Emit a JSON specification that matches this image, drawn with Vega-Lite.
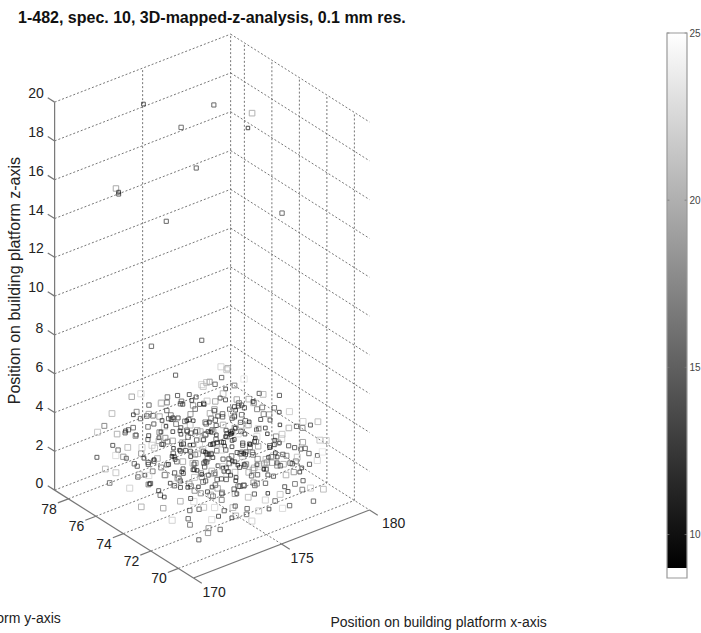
{"$schema":"https://vega.github.io/schema/vega-lite/v6.json","width":701,"height":633,"padding":0,"autosize":{"type":"none"},"background":"white",
"title":{"text":"1-482, spec. 10, 3D-mapped-z-analysis, 0.1 mm res.","anchor":"start","frame":"group","dx":18,"offset":-26,"fontSize":16,"fontWeight":"bold","font":"Liberation Sans","color":"#111"},
"config":{"view":{"stroke":null},"text":{"font":"Liberation Sans"}},
"datasets":{
"lines":[
{"k":"g","a":170,"b":79,"c":0,"a2":180,"b2":79,"c2":0},{"k":"g","a":180,"b":79,"c":0,"a2":180,"b2":68.9,"c2":0},
{"k":"g","a":170,"b":79,"c":2,"a2":180,"b2":79,"c2":2},{"k":"g","a":180,"b":79,"c":2,"a2":180,"b2":68.9,"c2":2},
{"k":"g","a":170,"b":79,"c":4,"a2":180,"b2":79,"c2":4},{"k":"g","a":180,"b":79,"c":4,"a2":180,"b2":68.9,"c2":4},
{"k":"g","a":170,"b":79,"c":6,"a2":180,"b2":79,"c2":6},{"k":"g","a":180,"b":79,"c":6,"a2":180,"b2":68.9,"c2":6},
{"k":"g","a":170,"b":79,"c":8,"a2":180,"b2":79,"c2":8},{"k":"g","a":180,"b":79,"c":8,"a2":180,"b2":68.9,"c2":8},
{"k":"g","a":170,"b":79,"c":10,"a2":180,"b2":79,"c2":10},{"k":"g","a":180,"b":79,"c":10,"a2":180,"b2":68.9,"c2":10},
{"k":"g","a":170,"b":79,"c":12,"a2":180,"b2":79,"c2":12},{"k":"g","a":180,"b":79,"c":12,"a2":180,"b2":68.9,"c2":12},
{"k":"g","a":170,"b":79,"c":14,"a2":180,"b2":79,"c2":14},{"k":"g","a":180,"b":79,"c":14,"a2":180,"b2":68.9,"c2":14},
{"k":"g","a":170,"b":79,"c":16,"a2":180,"b2":79,"c2":16},{"k":"g","a":180,"b":79,"c":16,"a2":180,"b2":68.9,"c2":16},
{"k":"g","a":170,"b":79,"c":18,"a2":180,"b2":79,"c2":18},{"k":"g","a":180,"b":79,"c":18,"a2":180,"b2":68.9,"c2":18},
{"k":"g","a":170,"b":79,"c":20,"a2":180,"b2":79,"c2":20},{"k":"g","a":180,"b":79,"c":20,"a2":180,"b2":68.9,"c2":20},
{"k":"g","a":175,"b":79,"c":0,"a2":175,"b2":79,"c2":20},{"k":"g","a":180,"b":79,"c":0,"a2":180,"b2":79,"c2":20},
{"k":"g","a":180,"b":78,"c":0,"a2":180,"b2":78,"c2":20},{"k":"g","a":180,"b":76,"c":0,"a2":180,"b2":76,"c2":20},
{"k":"g","a":180,"b":74,"c":0,"a2":180,"b2":74,"c2":20},{"k":"g","a":180,"b":72,"c":0,"a2":180,"b2":72,"c2":20},
{"k":"g","a":180,"b":70,"c":0,"a2":180,"b2":70,"c2":20},
{"k":"g","a":170,"b":78,"c":0,"a2":180,"b2":78,"c2":0},{"k":"g","a":170,"b":76,"c":0,"a2":180,"b2":76,"c2":0},
{"k":"g","a":170,"b":74,"c":0,"a2":180,"b2":74,"c2":0},{"k":"g","a":170,"b":72,"c":0,"a2":180,"b2":72,"c2":0},
{"k":"g","a":170,"b":70,"c":0,"a2":180,"b2":70,"c2":0},{"k":"g","a":175,"b":68.9,"c":0,"a2":175,"b2":79,"c2":0},
{"k":"s","a":170,"b":79,"c":0,"a2":170,"b2":79,"c2":20},{"k":"s","a":170,"b":79,"c":0,"a2":170,"b2":68.9,"c2":0},{"k":"s","a":170,"b":68.9,"c":0,"a2":180,"b2":68.9,"c2":0},
{"k":"s","a":170,"b":79,"c":0,"a2":170,"b2":79.5,"c2":0},{"k":"s","a":170,"b":79,"c":2,"a2":170,"b2":79.5,"c2":2},{"k":"s","a":170,"b":79,"c":4,"a2":170,"b2":79.5,"c2":4},{"k":"s","a":170,"b":79,"c":6,"a2":170,"b2":79.5,"c2":6},{"k":"s","a":170,"b":79,"c":8,"a2":170,"b2":79.5,"c2":8},{"k":"s","a":170,"b":79,"c":10,"a2":170,"b2":79.5,"c2":10},{"k":"s","a":170,"b":79,"c":12,"a2":170,"b2":79.5,"c2":12},{"k":"s","a":170,"b":79,"c":14,"a2":170,"b2":79.5,"c2":14},{"k":"s","a":170,"b":79,"c":16,"a2":170,"b2":79.5,"c2":16},{"k":"s","a":170,"b":79,"c":18,"a2":170,"b2":79.5,"c2":18},{"k":"s","a":170,"b":79,"c":20,"a2":170,"b2":79.5,"c2":20},
{"k":"s","a":170,"b":78,"c":0,"a2":169.4,"b2":78,"c2":0},{"k":"s","a":170,"b":76,"c":0,"a2":169.4,"b2":76,"c2":0},{"k":"s","a":170,"b":74,"c":0,"a2":169.4,"b2":74,"c2":0},{"k":"s","a":170,"b":72,"c":0,"a2":169.4,"b2":72,"c2":0},{"k":"s","a":170,"b":70,"c":0,"a2":169.4,"b2":70,"c2":0},
{"k":"s","a":170,"b":68.9,"c":0,"a2":170,"b2":68.3,"c2":0},{"k":"s","a":175,"b":68.9,"c":0,"a2":175,"b2":68.3,"c2":0},{"k":"s","a":180,"b":68.9,"c":0,"a2":180,"b2":68.3,"c2":0}],
"labels":[
{"t":"20","a":170,"b":80.35,"c":19.8},{"t":"18","a":170,"b":80.35,"c":17.8},{"t":"16","a":170,"b":80.35,"c":15.8},{"t":"14","a":170,"b":80.35,"c":13.8},{"t":"12","a":170,"b":80.35,"c":11.8},{"t":"10","a":170,"b":80.35,"c":9.8},{"t":"8","a":170,"b":80.1,"c":7.8},{"t":"6","a":170,"b":80.1,"c":5.8},{"t":"4","a":170,"b":80.1,"c":3.8},{"t":"2","a":170,"b":80.1,"c":1.8},{"t":"0","a":170,"b":80.1,"c":-0.2},
{"t":"78","a":168.9,"b":78,"c":-0.18},{"t":"76","a":168.9,"b":76,"c":-0.18},{"t":"74","a":168.9,"b":74,"c":-0.18},{"t":"72","a":168.9,"b":72,"c":-0.18},{"t":"70","a":168.9,"b":70,"c":-0.18},
{"t":"170","a":170,"b":67.4,"c":-0.1},{"t":"175","a":175,"b":67.4,"c":-0.1},{"t":"180","a":180.2,"b":67.4,"c":-0.1}]},
"data":{"values":[{"x":174,"y":77.66,"z":19.1,"v":10},{"x":176,"y":75.1,"z":19.5,"v":12},{"x":175,"y":76.2,"z":18.2,"v":13},{"x":177,"y":73.6,"z":19.4,"v":20},{"x":177,"y":73.9,"z":18.5,"v":9},{"x":175,"y":75.1,"z":16.6,"v":12},{"x":172,"y":77.1,"z":15.7,"v":19},{"x":172,"y":76.9,"z":15.6,"v":10},{"x":172,"y":76.9,"z":15.5,"v":11},{"x":178,"y":72.7,"z":14.3,"v":13},{"x":174,"y":76,"z":13.8,"v":12},{"x":173,"y":75.8,"z":7.8,"v":13},{"x":175,"y":74.7,"z":7.9,"v":12},
{"x":172.1,"y":71.2,"z":0.2,"v":12},{"x":172.3,"y":72.8,"z":1.4,"v":20},{"x":172.2,"y":74.6,"z":2.7,"v":14},{"x":172,"y":76.1,"z":0.7,"v":23},{"x":172.4,"y":77.9,"z":3.6,"v":21},{"x":172.1,"y":73.4,"z":3.1,"v":11},{"x":172.6,"y":71.7,"z":2.2,"v":17},{"x":172.5,"y":75.3,"z":1.1,"v":10},{"x":172.2,"y":77.2,"z":2.1,"v":13},{"x":172.7,"y":78,"z":0.4,"v":22},{"x":172.3,"y":72.1,"z":0.5,"v":15},{"x":172.8,"y":74,"z":3.8,"v":19},{"x":172.4,"y":76.7,"z":3.3,"v":12},{"x":172.6,"y":70.9,"z":1.2,"v":24},{"x":172.9,"y":73,"z":0.2,"v":13},{"x":172.5,"y":75.9,"z":2.4,"v":18},{"x":172.9,"y":77.5,"z":1.3,"v":11},{"x":172.2,"y":78.2,"z":2.9,"v":16},{"x":172.7,"y":72.4,"z":3.4,"v":21},{"x":172.8,"y":74.9,"z":0.6,"v":14},
{"x":173.1,"y":71.3,"z":3.2,"v":10},{"x":173,"y":73.7,"z":1.8,"v":12},{"x":173.2,"y":75.1,"z":3.9,"v":23},{"x":173.3,"y":76.4,"z":0.3,"v":15},{"x":173.1,"y":77.8,"z":2.5,"v":11},{"x":173.4,"y":72,"z":1.7,"v":20},{"x":173,"y":70.8,"z":0.6,"v":13},{"x":173.5,"y":74.4,"z":2.9,"v":9},{"x":173.2,"y":78.1,"z":1,"v":18},{"x":173.6,"y":76.9,"z":3.5,"v":14},{"x":173.3,"y":73.1,"z":0.9,"v":24},{"x":173.7,"y":71.6,"z":2.6,"v":12},{"x":173.4,"y":75.6,"z":1.5,"v":16},{"x":173.8,"y":77.3,"z":0.2,"v":10},{"x":173.5,"y":72.7,"z":3.7,"v":22},{"x":173.9,"y":74.1,"z":0.4,"v":11},{"x":173.6,"y":78,"z":4,"v":19},{"x":173.1,"y":74.8,"z":2.1,"v":13},{"x":173.8,"y":70.9,"z":1.4,"v":21},{"x":173.7,"y":73.5,"z":3,"v":15},{"x":173.9,"y":76.1,"z":2.3,"v":12},{"x":173.2,"y":71.9,"z":0.1,"v":17},{"x":173.6,"y":75.2,"z":0.8,"v":10},{"x":173.4,"y":77,"z":1.9,"v":23},{"x":173.9,"y":72.3,"z":1.9,"v":14},{"x":173,"y":76,"z":3.1,"v":11},{"x":173.8,"y":77.9,"z":3.2,"v":16},{"x":173.3,"y":73.9,"z":2.6,"v":20},{"x":173.5,"y":71,"z":3.5,"v":12},{"x":173.7,"y":74.7,"z":1.2,"v":18},{"x":173.1,"y":72.6,"z":2.8,"v":9},{"x":173.9,"y":75.7,"z":3.8,"v":13},
{"x":174.1,"y":70.9,"z":2.4,"v":14},{"x":174,"y":72.2,"z":0.3,"v":11},{"x":174.2,"y":73.6,"z":3.6,"v":22},{"x":174.1,"y":75,"z":1.3,"v":10},{"x":174,"y":76.5,"z":2.7,"v":16},{"x":174.3,"y":77.7,"z":0.5,"v":13},{"x":174.2,"y":78.1,"z":3.9,"v":24},{"x":174.4,"y":71.5,"z":1,"v":12},{"x":174.3,"y":72.9,"z":2.1,"v":19},{"x":174.5,"y":74.3,"z":0.7,"v":9},{"x":174.4,"y":75.8,"z":3.3,"v":15},{"x":174.6,"y":77.1,"z":1.6,"v":11},{"x":174.5,"y":71.1,"z":3.7,"v":21},{"x":174.7,"y":73.2,"z":1.5,"v":13},{"x":174.6,"y":74.8,"z":2.6,"v":10},{"x":174.8,"y":76.2,"z":0.2,"v":18},{"x":174.7,"y":77.8,"z":2.3,"v":12},{"x":174.9,"y":72.4,"z":3,"v":14},{"x":174.8,"y":70.8,"z":0.4,"v":23},{"x":174.9,"y":75.4,"z":1.9,"v":11},{"x":174.1,"y":74,"z":2.2,"v":17},{"x":174.6,"y":72,"z":0.1,"v":10},{"x":174.2,"y":76.9,"z":1.1,"v":20},{"x":174.8,"y":73.7,"z":3.8,"v":12},{"x":174.3,"y":71.8,"z":3.1,"v":15},{"x":174.5,"y":76.6,"z":3.6,"v":13},{"x":174.9,"y":78,"z":0.9,"v":22},{"x":174,"y":73,"z":1.2,"v":11},{"x":174.7,"y":75.1,"z":0.3,"v":16},{"x":174.4,"y":73.4,"z":2.8,"v":9},{"x":174.1,"y":77.4,"z":3.2,"v":19},{"x":174.6,"y":71.4,"z":2,"v":14},{"x":174.9,"y":76.8,"z":2.9,"v":10},{"x":174.2,"y":75.5,"z":0.4,"v":25},{"x":174.5,"y":72.6,"z":1.1,"v":12},{"x":174.8,"y":74.5,"z":1.2,"v":17},{"x":174.3,"y":74.6,"z":3.4,"v":13},{"x":174,"y":78.2,"z":1.8,"v":11},{"x":174.7,"y":70.9,"z":2.9,"v":20},{"x":174.4,"y":77.5,"z":0.1,"v":15},
{"x":175.1,"y":71,"z":1.6,"v":12},{"x":175,"y":72.5,"z":3.4,"v":10},{"x":175.2,"y":73.8,"z":0.6,"v":19},{"x":175.1,"y":75.2,"z":2.5,"v":13},{"x":175,"y":76.7,"z":1,"v":11},{"x":175.3,"y":78,"z":3.1,"v":23},{"x":175.2,"y":71.7,"z":0.2,"v":14},{"x":175.4,"y":73,"z":2.3,"v":9},{"x":175.3,"y":74.4,"z":3.9,"v":16},{"x":175.5,"y":75.9,"z":0.8,"v":12},{"x":175.4,"y":77.3,"z":2.6,"v":10},{"x":175.6,"y":70.8,"z":3.3,"v":21},{"x":175.5,"y":72.3,"z":1.3,"v":15},{"x":175.7,"y":74.9,"z":1.7,"v":11},{"x":175.6,"y":76.1,"z":3.7,"v":18},{"x":175.8,"y":77.8,"z":0.4,"v":13},{"x":175.7,"y":71.5,"z":2.7,"v":24},{"x":175.9,"y":73.3,"z":0.3,"v":10},{"x":175.8,"y":75.4,"z":3,"v":14},{"x":175.9,"y":76.9,"z":1.9,"v":12},{"x":175.1,"y":74.1,"z":1.4,"v":20},{"x":175.6,"y":73.7,"z":3.5,"v":11},{"x":175.2,"y":77.6,"z":1.5,"v":17},{"x":175.8,"y":72.1,"z":1.8,"v":13},{"x":175.3,"y":75.7,"z":3.2,"v":9},{"x":175.5,"y":71.2,"z":0.5,"v":22},{"x":175.9,"y":78.1,"z":2.2,"v":15},{"x":175,"y":73.9,"z":2.9,"v":12},{"x":175.7,"y":76.4,"z":0.9,"v":10},{"x":175.4,"y":72.8,"z":0.7,"v":19},{"x":175.1,"y":76.3,"z":4,"v":14},{"x":175.6,"y":74.6,"z":2.4,"v":11},{"x":175.9,"y":71.9,"z":3.6,"v":16},{"x":175.2,"y":70.9,"z":2.6,"v":13},{"x":175.8,"y":73.9,"z":1.1,"v":23},{"x":175.3,"y":78.2,"z":1.2,"v":10},{"x":175.5,"y":77.1,"z":3.8,"v":12},{"x":175,"y":75.6,"z":0.1,"v":18},{"x":175.7,"y":72.7,"z":2.8,"v":9},{"x":175.4,"y":75,"z":1.1,"v":13},{"x":175.9,"y":74.3,"z":3.4,"v":20},{"x":175.1,"y":72.9,"z":1.9,"v":11},{"x":175.6,"y":78,"z":3,"v":15},
{"x":176.1,"y":71.3,"z":2.1,"v":11},{"x":176,"y":72.6,"z":0.4,"v":21},{"x":176.2,"y":74,"z":3.1,"v":13},{"x":176.1,"y":75.3,"z":1.2,"v":10},{"x":176,"y":76.8,"z":2.8,"v":17},{"x":176.3,"y":77.9,"z":0.3,"v":12},{"x":176.2,"y":70.9,"z":0.9,"v":14},{"x":176.4,"y":73.2,"z":3.7,"v":24},{"x":176.3,"y":74.7,"z":2,"v":9},{"x":176.5,"y":76.2,"z":0.6,"v":15},{"x":176.4,"y":77.4,"z":3.4,"v":11},{"x":176.6,"y":71.8,"z":3.2,"v":13},{"x":176.5,"y":72.9,"z":1.5,"v":19},{"x":176.7,"y":74.4,"z":0.2,"v":10},{"x":176.6,"y":75.7,"z":2.5,"v":12},{"x":176.8,"y":76.9,"z":3.9,"v":22},{"x":176.7,"y":78.1,"z":1.6,"v":14},{"x":176.9,"y":71.1,"z":1.3,"v":11},{"x":176.8,"y":73.5,"z":2.3,"v":16},{"x":176.9,"y":75.1,"z":3.5,"v":13},{"x":176.1,"y":73.7,"z":1.7,"v":10},{"x":176.6,"y":70.8,"z":2.7,"v":20},{"x":176.2,"y":76.1,"z":3.6,"v":12},{"x":176.8,"y":72.2,"z":0.5,"v":9},{"x":176.3,"y":72.3,"z":2.4,"v":18},{"x":176.5,"y":78,"z":2.6,"v":11},{"x":176.9,"y":77.3,"z":0.7,"v":23},{"x":176,"y":75,"z":3.3,"v":14},{"x":176.7,"y":74.9,"z":1.1,"v":12},{"x":176.4,"y":71.6,"z":0.1,"v":10},{"x":176.1,"y":78.2,"z":1.9,"v":15},{"x":176.6,"y":73.9,"z":3,"v":13},{"x":176.9,"y":76.3,"z":1.8,"v":19},{"x":176.2,"y":77.1,"z":1,"v":9},{"x":176.8,"y":71.6,"z":3.7,"v":17},{"x":176.3,"y":75.9,"z":2.2,"v":11},{"x":176.5,"y":74.2,"z":0.8,"v":21},{"x":176,"y":73,"z":2.9,"v":12},{"x":176.7,"y":77.6,"z":2.9,"v":10},{"x":176.4,"y":75.4,"z":1.4,"v":14},
{"x":177.1,"y":71,"z":0.3,"v":13},{"x":177,"y":72.4,"z":2.2,"v":10},{"x":177.2,"y":73.7,"z":1,"v":20},{"x":177.1,"y":75,"z":3.6,"v":12},{"x":177,"y":76.6,"z":0.5,"v":15},{"x":177.3,"y":77.8,"z":2.4,"v":11},{"x":177.2,"y":71.7,"z":3.4,"v":23},{"x":177.4,"y":73,"z":3,"v":9},{"x":177.3,"y":74.5,"z":0.7,"v":14},{"x":177.5,"y":75.8,"z":1.8,"v":12},{"x":177.4,"y":77.2,"z":3.8,"v":17},{"x":177.6,"y":70.9,"z":1.9,"v":10},{"x":177.5,"y":72.2,"z":0.2,"v":22},{"x":177.7,"y":74,"z":2.7,"v":13},{"x":177.6,"y":76.3,"z":3.2,"v":11},{"x":177.8,"y":78,"z":0.6,"v":16},{"x":177.7,"y":71.4,"z":2.9,"v":12},{"x":177.9,"y":73.3,"z":1.2,"v":19},{"x":177.8,"y":75.2,"z":0.3,"v":10},{"x":177.9,"y":76.9,"z":2.1,"v":14},{"x":177.1,"y":74.2,"z":1.5,"v":11},{"x":177.6,"y":73.8,"z":0.9,"v":24},{"x":177.2,"y":76,"z":2.6,"v":13},{"x":177.8,"y":72.6,"z":3.5,"v":9},{"x":177.3,"y":72.9,"z":1.6,"v":18},{"x":177.5,"y":74.8,"z":3.5,"v":12},{"x":177.9,"y":71.1,"z":0.8,"v":15},{"x":177,"y":78.1,"z":1.3,"v":21},{"x":177.7,"y":77.1,"z":1,"v":10},{"x":177.4,"y":75.4,"z":2.8,"v":13},{"x":177.1,"y":73.1,"z":3.8,"v":11},{"x":177.6,"y":71.9,"z":1.3,"v":20},{"x":177.9,"y":74.6,"z":3.7,"v":14},{"x":177.2,"y":77.4,"z":0.2,"v":12},{"x":177.8,"y":76.1,"z":1.5,"v":9},{"x":177.3,"y":70.8,"z":2.6,"v":16},{"x":177.5,"y":77.9,"z":3.3,"v":23},{"x":177,"y":74.9,"z":2,"v":10},
{"x":178.1,"y":71.3,"z":1.1,"v":12},{"x":178,"y":72.7,"z":2.9,"v":22},{"x":178.2,"y":74.1,"z":0.4,"v":11},{"x":178.1,"y":75.5,"z":2.3,"v":14},{"x":178,"y":76.8,"z":3.4,"v":10},{"x":178.3,"y":78,"z":1.7,"v":19},{"x":178.2,"y":71.9,"z":3.6,"v":13},{"x":178.4,"y":73.4,"z":2,"v":9},{"x":178.3,"y":74.9,"z":3.1,"v":16},{"x":178.5,"y":76.2,"z":0.7,"v":12},{"x":178.4,"y":77.5,"z":2.7,"v":21},{"x":178.6,"y":70.9,"z":2.4,"v":11},{"x":178.5,"y":72.4,"z":0.3,"v":15},{"x":178.7,"y":73.8,"z":3.3,"v":10},{"x":178.6,"y":75.3,"z":1.4,"v":24},{"x":178.8,"y":76.9,"z":2.2,"v":13},{"x":178.7,"y":71.6,"z":1.6,"v":12},{"x":178.9,"y":73,"z":0.5,"v":18},{"x":178.8,"y":74.6,"z":2.5,"v":11},{"x":178.9,"y":77.8,"z":3.7,"v":20},{"x":178.1,"y":73.6,"z":1.3,"v":14},{"x":178.6,"y":77.1,"z":0.4,"v":10},{"x":178.2,"y":76.4,"z":1.5,"v":17},{"x":178.8,"y":72.2,"z":3.5,"v":23},{"x":178.3,"y":70.8,"z":0.2,"v":13},{"x":178.5,"y":75,"z":3.8,"v":12},{"x":178.9,"y":75.8,"z":1,"v":9},{"x":178,"y":74.8,"z":0.9,"v":15},{"x":178.7,"y":78.1,"z":2.1,"v":11},{"x":178.4,"y":71.7,"z":2.8,"v":19},{"x":178.1,"y":77.7,"z":3.2,"v":13},{"x":178.6,"y":74,"z":1.8,"v":10},{"x":178.9,"y":71.1,"z":3,"v":22},{"x":178.2,"y":75.9,"z":2.9,"v":12},{"x":178.8,"y":73.4,"z":1.2,"v":16},{"x":178.3,"y":72.5,"z":1.4,"v":14},
{"x":179.1,"y":71.1,"z":0.4,"v":21},{"x":179,"y":72.3,"z":2,"v":13},{"x":179.2,"y":73.7,"z":3.2,"v":23},{"x":179.1,"y":75,"z":0.8,"v":11},{"x":179,"y":76.4,"z":2.7,"v":20},{"x":179.2,"y":77.7,"z":1.2,"v":14},{"x":179.3,"y":71.8,"z":1.5,"v":24},{"x":179.1,"y":74.3,"z":3.8,"v":12},{"x":179.3,"y":76.1,"z":0.3,"v":19},{"x":179,"y":78,"z":3.5,"v":22},{"x":179.2,"y":72.8,"z":0.7,"v":10},{"x":179.1,"y":70.9,"z":3,"v":23},{"x":179.3,"y":75.3,"z":2.3,"v":18},{"x":179,"y":73.5,"z":1.6,"v":12},{"x":179.2,"y":77,"z":3.4,"v":25},{"x":179.1,"y":71.5,"z":3.7,"v":21},{"x":179.4,"y":73,"z":2.6,"v":16},{"x":179.3,"y":78,"z":0.9,"v":13},
{"x":171.6,"y":72.5,"z":0.8,"v":23},{"x":171.7,"y":74.2,"z":1.9,"v":12},{"x":171.5,"y":75.6,"z":3.2,"v":21},{"x":171.8,"y":77.3,"z":0.5,"v":14},{"x":171.6,"y":76.6,"z":2.3,"v":24},{"x":171.7,"y":78.1,"z":1.5,"v":11},{"x":171.8,"y":73.3,"z":2.7,"v":18},{"x":171.5,"y":77.8,"z":3,"v":22},{"x":171.9,"y":71.6,"z":1.6,"v":13},{"x":171.8,"y":75,"z":0.3,"v":20},
{"x":174.3,"y":76.3,"z":4.5,"v":14},{"x":175.7,"y":77.5,"z":4.6,"v":12},{"x":176.6,"y":76.4,"z":4.4,"v":22},{"x":177.3,"y":76.2,"z":4.5,"v":13},{"x":178.2,"y":77.4,"z":4.2,"v":23},{"x":173.5,"y":74.3,"z":4.1,"v":11},{"x":175,"y":74.1,"z":4.4,"v":20},{"x":176.3,"y":73.9,"z":4.2,"v":10},{"x":177.5,"y":73.5,"z":4.1,"v":15},{"x":174.8,"y":72.6,"z":4.1,"v":12},
{"x":172.9,"y":75.9,"z":1.7,"v":12},{"x":173.2,"y":76.6,"z":1.6,"v":10},{"x":174.4,"y":76.1,"z":1.5,"v":9},{"x":174.9,"y":74.2,"z":2.3,"v":11},{"x":175.3,"y":76.6,"z":2.1,"v":10},{"x":175.6,"y":75.2,"z":1.7,"v":9},{"x":176.2,"y":74.5,"z":2.6,"v":10},{"x":176.7,"y":76.2,"z":1.9,"v":9},{"x":177.1,"y":75.8,"z":1.4,"v":11},{"x":177.4,"y":74.3,"z":1.9,"v":10},{"x":173.9,"y":73.3,"z":2,"v":9},{"x":174.5,"y":74.7,"z":1.4,"v":10},{"x":175.2,"y":72.2,"z":2.4,"v":11},{"x":175.8,"y":73.1,"z":1.9,"v":9},{"x":176.5,"y":72.6,"z":1.9,"v":10},{"x":177.8,"y":73,"z":2.3,"v":11},{"x":174.1,"y":72.8,"z":1.5,"v":10},{"x":175,"y":77.3,"z":2.3,"v":9},{"x":176,"y":77.7,"z":2.2,"v":11},{"x":178,"y":75.4,"z":1.7,"v":10},
{"x":172.3,"y":77.4,"z":2.8,"v":20},{"x":172.1,"y":75.8,"z":3.5,"v":16},{"x":172.6,"y":73.6,"z":2.4,"v":12},{"x":172.4,"y":71.9,"z":3,"v":22},{"x":172.7,"y":76.4,"z":0.9,"v":13},{"x":172.5,"y":74.3,"z":0.3,"v":19},{"x":172.8,"y":72.9,"z":1.9,"v":10},{"x":172.3,"y":75.1,"z":1.7,"v":24},{"x":172.9,"y":77,"z":3.1,"v":14},{"x":172.6,"y":78.1,"z":1.8,"v":11},{"x":172.7,"y":71.3,"z":0.3,"v":18},{"x":172.2,"y":73.1,"z":2.1,"v":13},{"x":172.8,"y":75.5,"z":2.9,"v":23},{"x":172.4,"y":74.1,"z":1,"v":10},{"x":172.9,"y":74.5,"z":3.5,"v":15},{"x":172.1,"y":78,"z":0.8,"v":21},
{"x":173.2,"y":72.3,"z":2.3,"v":15},{"x":173.4,"y":74.2,"z":1.1,"v":11},{"x":173.1,"y":76.8,"z":0.7,"v":21},{"x":173.6,"y":73.1,"z":0.4,"v":13},{"x":173.3,"y":77.5,"z":3.4,"v":10},{"x":173.5,"y":75.9,"z":2.7,"v":19},{"x":173.8,"y":72.8,"z":2.9,"v":12},{"x":173.2,"y":73.4,"z":3.5,"v":23},{"x":173.7,"y":76.5,"z":1.4,"v":9},{"x":173.4,"y":71.2,"z":1.8,"v":16},{"x":173.9,"y":77.2,"z":2.7,"v":14},{"x":173.1,"y":75.4,"z":0.5,"v":11},{"x":173.6,"y":74.3,"z":3.3,"v":20},{"x":173.3,"y":78.1,"z":2.2,"v":12},{"x":173.8,"y":75.1,"z":2,"v":10},{"x":173.5,"y":73.3,"z":1.3,"v":17},{"x":173.7,"y":72.1,"z":0.9,"v":24},{"x":173.2,"y":77.3,"z":1,"v":13},{"x":173.9,"y":71.2,"z":2.9,"v":11},{"x":173.4,"y":76.2,"z":3.9,"v":15},{"x":173,"y":72,"z":1.2,"v":22},{"x":173.6,"y":77.6,"z":0.6,"v":12},
{"x":174.2,"y":72.5,"z":2.7,"v":10},{"x":174.5,"y":73.9,"z":2.1,"v":13},{"x":174.1,"y":76.2,"z":0.6,"v":19},{"x":174.7,"y":74.2,"z":3.1,"v":11},{"x":174.3,"y":75.3,"z":2.5,"v":9},{"x":174.6,"y":76,"z":1.2,"v":14},{"x":174.8,"y":77.4,"z":3.5,"v":22},{"x":174.4,"y":72.3,"z":0.4,"v":12},{"x":174.9,"y":73.1,"z":0.8,"v":16},{"x":174.2,"y":71.2,"z":0.7,"v":20},{"x":174.7,"y":75.9,"z":2.8,"v":10},{"x":174.1,"y":78,"z":2.7,"v":13},{"x":174.5,"y":75.4,"z":0.9,"v":11},{"x":174.8,"y":72.9,"z":2.2,"v":9},{"x":174.3,"y":73.8,"z":1.5,"v":18},{"x":174.6,"y":78.1,"z":1.4,"v":12},{"x":174.9,"y":71.6,"z":3.5,"v":23},{"x":174,"y":74.5,"z":3.7,"v":14},{"x":174.4,"y":76.9,"z":2.4,"v":10},{"x":174.7,"y":73.5,"z":0.5,"v":15},{"x":174.2,"y":73.2,"z":1.9,"v":11},{"x":174.9,"y":74.9,"z":3.2,"v":19},{"x":174.5,"y":77.9,"z":3.3,"v":13},{"x":174.1,"y":72,"z":3.3,"v":12},{"x":174.8,"y":76.5,"z":1.6,"v":9},{"x":174.6,"y":73.1,"z":3.4,"v":21},
{"x":175.2,"y":75.5,"z":0.8,"v":11},{"x":175.5,"y":74.3,"z":2.8,"v":13},{"x":175.1,"y":77.9,"z":2.5,"v":19},{"x":175.7,"y":73.1,"z":1.3,"v":10},{"x":175.3,"y":71.4,"z":3.5,"v":14},{"x":175.6,"y":76.8,"z":1.4,"v":12},{"x":175.8,"y":74.8,"z":0.7,"v":22},{"x":175.4,"y":76.3,"z":2.9,"v":9},{"x":175.9,"y":75.6,"z":2.3,"v":16},{"x":175.2,"y":72.6,"z":1.1,"v":13},{"x":175.7,"y":77.7,"z":1.6,"v":10},{"x":175.1,"y":73.4,"z":3.2,"v":11},{"x":175.5,"y":72.7,"z":3.8,"v":24},{"x":175.8,"y":76.2,"z":3.4,"v":14},{"x":175.3,"y":74.8,"z":0.5,"v":12},{"x":175.6,"y":71.7,"z":1.7,"v":18},{"x":175.9,"y":72.8,"z":2.6,"v":9},{"x":175,"y":71.4,"z":0.7,"v":13},{"x":175.4,"y":78.1,"z":2.1,"v":10},{"x":175.7,"y":75.7,"z":2.5,"v":20},{"x":175.2,"y":74.7,"z":3.6,"v":15},{"x":175.5,"y":76.7,"z":0.2,"v":11},{"x":175.8,"y":71.1,"z":1,"v":23},{"x":175.1,"y":76,"z":1.6,"v":12},{"x":175.9,"y":77.4,"z":3.1,"v":13},{"x":175.4,"y":73.6,"z":1.5,"v":10},
{"x":176.2,"y":72.4,"z":3.3,"v":11},{"x":176.5,"y":75.7,"z":3.3,"v":13},{"x":176.1,"y":76.4,"z":0.9,"v":20},{"x":176.7,"y":72.9,"z":3.5,"v":10},{"x":176.3,"y":73.3,"z":0.6,"v":14},{"x":176.6,"y":77.2,"z":1.5,"v":12},{"x":176.8,"y":75.5,"z":0.4,"v":23},{"x":176.4,"y":74.4,"z":2.7,"v":9},{"x":176.9,"y":73.9,"z":1.2,"v":16},{"x":176.2,"y":71.6,"z":1.5,"v":13},{"x":176.7,"y":76.7,"z":3.1,"v":10},{"x":176.1,"y":75,"z":2.1,"v":11},{"x":176.5,"y":71.4,"z":2.9,"v":22},{"x":176.8,"y":78,"z":0.8,"v":15},{"x":176.3,"y":77.3,"z":2.2,"v":12},{"x":176.6,"y":72.2,"z":2.1,"v":19},{"x":176.9,"y":74.7,"z":2.7,"v":9},{"x":176,"y":74.2,"z":0.6,"v":13},{"x":176.4,"y":76.9,"z":3.5,"v":11},{"x":176.7,"y":71,"z":0.3,"v":24},{"x":176.2,"y":75.6,"z":1.7,"v":10},{"x":176.8,"y":74.1,"z":3.7,"v":14},{"x":176.5,"y":73.4,"z":2.2,"v":12},{"x":176.1,"y":72.1,"z":1.3,"v":17},{"x":176.6,"y":76.5,"z":0.3,"v":10},{"x":176.9,"y":72.5,"z":1.6,"v":20},
{"x":177.2,"y":72.3,"z":1.2,"v":12},{"x":177.5,"y":75.1,"z":1,"v":14},{"x":177.1,"y":77,"z":3,"v":22},{"x":177.7,"y":72.8,"z":2,"v":10},{"x":177.3,"y":75.9,"z":0.9,"v":13},{"x":177.6,"y":74.5,"z":1.7,"v":9},{"x":177.8,"y":77.3,"z":2.6,"v":19},{"x":177.4,"y":71.5,"z":0.7,"v":11},{"x":177.9,"y":75.7,"z":3.2,"v":15},{"x":177.2,"y":74.7,"z":2.9,"v":12},{"x":177.7,"y":76.7,"z":0.4,"v":23},{"x":177.1,"y":71.9,"z":2.4,"v":10},{"x":177.5,"y":73.4,"z":3.8,"v":16},{"x":177.8,"y":71.7,"z":1.9,"v":13},{"x":177.3,"y":77.1,"z":1.8,"v":11},{"x":177.6,"y":72.5,"z":2.7,"v":20},{"x":177.9,"y":73.9,"z":0.6,"v":9},{"x":177,"y":73.4,"z":0.3,"v":14},{"x":177.4,"y":76.6,"z":2.3,"v":12},{"x":177.7,"y":75.3,"z":2.3,"v":21},
{"x":178.2,"y":72.9,"z":1.7,"v":13},{"x":178.5,"y":73.7,"z":0.8,"v":11},{"x":178.1,"y":74.9,"z":3.5,"v":22},{"x":178.7,"y":75.7,"z":3,"v":10},{"x":178.3,"y":77.1,"z":0.7,"v":14},{"x":178.6,"y":72.1,"z":2.2,"v":12},{"x":178.8,"y":77.4,"z":1.6,"v":24},{"x":178.4,"y":75.6,"z":2.1,"v":9},{"x":178.9,"y":74.2,"z":0.3,"v":17},{"x":178.2,"y":71,"z":2.6,"v":13},{"x":178.7,"y":73.1,"z":2.8,"v":20},{"x":178.1,"y":76.1,"z":0.4,"v":11},{"x":178.5,"y":76.8,"z":3.4,"v":15},{"x":178.8,"y":75.1,"z":3.6,"v":21},{"x":178.3,"y":74.3,"z":2.4,"v":10},{"x":178.6,"y":71.4,"z":0.5,"v":23},
{"x":179.1,"y":73,"z":1.2,"v":22},{"x":179.2,"y":74.8,"z":2.9,"v":14},{"x":179,"y":75.7,"z":1.5,"v":24},{"x":179.3,"y":72.3,"z":3.1,"v":11},{"x":179.1,"y":77.4,"z":2.2,"v":19},{"x":179.2,"y":71.3,"z":2.2,"v":25},{"x":179,"y":74.1,"z":0.3,"v":13},{"x":179.3,"y":76.8,"z":1.1,"v":21}]},
"transform":[{"calculate":"193.5+17.6*(datum.x-170)-13.75*(datum.y-68.9)","as":"sx"},{"calculate":"578-6.8*(datum.x-170)-8.7*(datum.y-68.9)-19.4*datum.z","as":"sy"}],
"resolve":{"scale":{"x":"independent","y":"independent"}},
"layer":[
{"data":{"name":"lines"},"transform":[{"filter":"datum.k=='g'"},{"calculate":"193.5+17.6*(datum.a-170)-13.75*(datum.b-68.9)","as":"sx"},{"calculate":"578-6.8*(datum.a-170)-8.7*(datum.b-68.9)-19.4*datum.c","as":"sy"},{"calculate":"193.5+17.6*(datum.a2-170)-13.75*(datum.b2-68.9)","as":"sx2"},{"calculate":"578-6.8*(datum.a2-170)-8.7*(datum.b2-68.9)-19.4*datum.c2","as":"sy2"}],
"mark":{"type":"rule","color":"#666","strokeWidth":0.9,"strokeDash":[2,2]},
"encoding":{"x":{"field":"sx","type":"quantitative","scale":{"domain":[0,701]},"axis":null},"y":{"field":"sy","type":"quantitative","scale":{"domain":[633,0]},"axis":null},"x2":{"field":"sx2"},"y2":{"field":"sy2"}}},
{"data":{"name":"lines"},"transform":[{"filter":"datum.k=='s'"},{"calculate":"193.5+17.6*(datum.a-170)-13.75*(datum.b-68.9)","as":"sx"},{"calculate":"578-6.8*(datum.a-170)-8.7*(datum.b-68.9)-19.4*datum.c","as":"sy"},{"calculate":"193.5+17.6*(datum.a2-170)-13.75*(datum.b2-68.9)","as":"sx2"},{"calculate":"578-6.8*(datum.a2-170)-8.7*(datum.b2-68.9)-19.4*datum.c2","as":"sy2"}],
"mark":{"type":"rule","color":"#777","strokeWidth":1.2},
"encoding":{"x":{"field":"sx","type":"quantitative","scale":{"domain":[0,701]},"axis":null},"y":{"field":"sy","type":"quantitative","scale":{"domain":[633,0]},"axis":null},"x2":{"field":"sx2"},"y2":{"field":"sy2"}}},
{"mark":{"type":"point","shape":"square","filled":false,"strokeWidth":1},
"encoding":{"x":{"field":"sx","type":"quantitative","scale":{"domain":[0,701]},"axis":null},"y":{"field":"sy","type":"quantitative","scale":{"domain":[633,0]},"axis":null},
"color":{"field":"v","type":"quantitative","scale":{"domain":[9,25],"range":["#000000","#e0e0e0"]},"legend":null},"size":{"field":"v","type":"quantitative","scale":{"domain":[9,25],"range":[12,40]},"legend":null}}},
{"data":{"name":"labels"},"transform":[{"calculate":"193.5+17.6*(datum.a-170)-13.75*(datum.b-68.9)","as":"sx"},{"calculate":"578-6.8*(datum.a-170)-8.7*(datum.b-68.9)-19.4*datum.c","as":"sy"}],
"mark":{"type":"text","fontSize":14,"color":"#222","align":"center","baseline":"middle"},
"encoding":{"x":{"field":"sx","type":"quantitative","scale":{"domain":[0,701]},"axis":null},"y":{"field":"sy","type":"quantitative","scale":{"domain":[633,0]},"axis":null},"text":{"field":"t"}}},
{"data":{"values":[{"t":"Position on building platform x-axis","a":176.14,"b":58.93,"c":0}]},"transform":[{"calculate":"193.5+17.6*(datum.a-170)-13.75*(datum.b-68.9)","as":"sx"},{"calculate":"578-6.8*(datum.a-170)-8.7*(datum.b-68.9)-19.4*datum.c","as":"sy"}],
"mark":{"type":"text","fontSize":14,"color":"#222","align":"center","baseline":"middle"},
"encoding":{"x":{"field":"sx","type":"quantitative","scale":{"domain":[0,701]},"axis":null},"y":{"field":"sy","type":"quantitative","scale":{"domain":[633,0]},"axis":null},"text":{"field":"t"}}},
{"data":{"values":[{"t":"Position on building platform z-axis","a":170,"b":81.9,"c":9.5}]},"transform":[{"calculate":"193.5+17.6*(datum.a-170)-13.75*(datum.b-68.9)","as":"sx"},{"calculate":"578-6.8*(datum.a-170)-8.7*(datum.b-68.9)-19.4*datum.c","as":"sy"}],
"mark":{"type":"text","fontSize":16,"color":"#222","angle":270,"align":"center","baseline":"middle"},
"encoding":{"x":{"field":"sx","type":"quantitative","scale":{"domain":[0,701]},"axis":null},"y":{"field":"sy","type":"quantitative","scale":{"domain":[633,0]},"axis":null},"text":{"field":"t"}}},
{"data":{"values":[{"t":"Position on building platform y-axis","a":163.03,"b":69.63,"c":0}]},"transform":[{"calculate":"193.5+17.6*(datum.a-170)-13.75*(datum.b-68.9)","as":"sx"},{"calculate":"578-6.8*(datum.a-170)-8.7*(datum.b-68.9)-19.4*datum.c","as":"sy"}],
"mark":{"type":"text","fontSize":14,"color":"#222","align":"right","baseline":"middle"},
"encoding":{"x":{"field":"sx","type":"quantitative","scale":{"domain":[0,701]},"axis":null},"y":{"field":"sy","type":"quantitative","scale":{"domain":[633,0]},"axis":null},"text":{"field":"t"}}},
{"data":{"values":[{"lo":9,"hi":25,"x0":0,"x1":1}]},
"mark":{"type":"rect","fill":{"x1":0,"y1":1,"x2":0,"y2":0,"gradient":"linear","stops":[{"offset":0,"color":"#000000"},{"offset":1,"color":"#ffffff"}]}},
"encoding":{"x":{"field":"x0","type":"quantitative","scale":{"domain":[0,1],"range":[667,687]},"axis":null},"x2":{"field":"x1"},
"y":{"field":"lo","type":"quantitative","scale":{"domain":[8.7,25],"range":[578,33]},"axis":{"orient":"right","values":[10,15,20,25],"domain":false,"ticks":false,"grid":false,"title":null,"labelPadding":0,"offset":-12,"labelFontSize":10,"labelColor":"#444","labelFont":"Liberation Sans"}},"y2":{"field":"hi"}}},
{"data":{"values":[{"v":10,"x0":0,"x1":0.12},{"v":10,"x0":0.88,"x1":1},{"v":15,"x0":0,"x1":0.12},{"v":15,"x0":0.88,"x1":1},{"v":20,"x0":0,"x1":0.12},{"v":20,"x0":0.88,"x1":1},{"v":25,"x0":0,"x1":0.12},{"v":25,"x0":0.88,"x1":1}]},
"mark":{"type":"rule","color":"#777","strokeWidth":0.8},
"encoding":{"x":{"field":"x0","type":"quantitative","scale":{"domain":[0,1],"range":[667,687]},"axis":null},"x2":{"field":"x1"},
"y":{"field":"v","type":"quantitative","scale":{"domain":[8.7,25],"range":[578,33]},"axis":null}}},
{"data":{"values":[{"lo":8.7,"hi":25,"x0":0,"x1":1}]},
"mark":{"type":"rect","fill":null,"stroke":"#999","strokeWidth":1.2},
"encoding":{"x":{"field":"x0","type":"quantitative","scale":{"domain":[0,1],"range":[667,687]},"axis":null},"x2":{"field":"x1"},
"y":{"field":"lo","type":"quantitative","scale":{"domain":[8.7,25],"range":[578,33]},"axis":null},"y2":{"field":"hi"}}}
]}
